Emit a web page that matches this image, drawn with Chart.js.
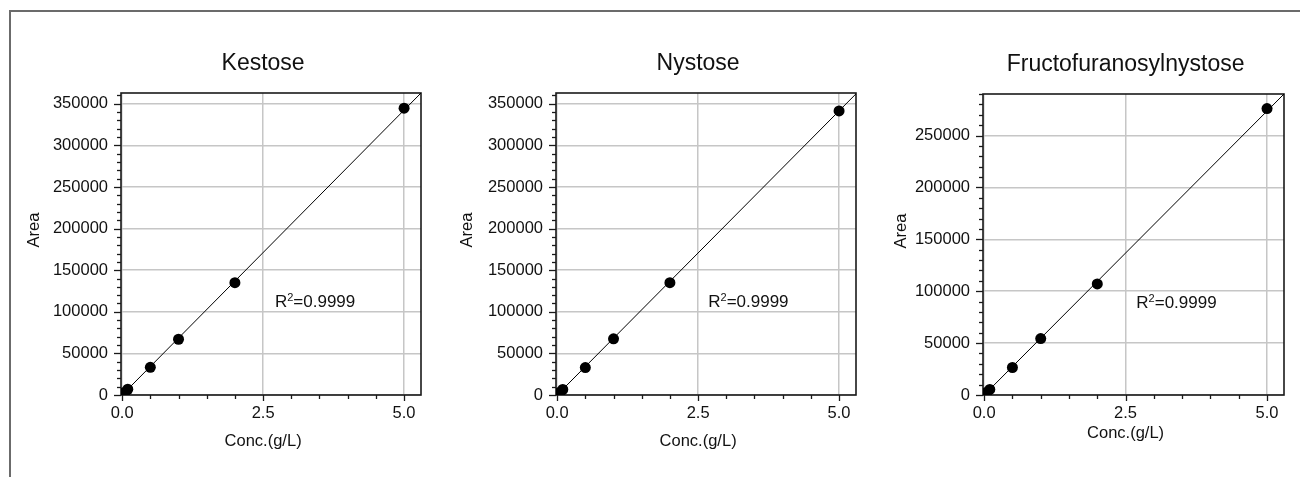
<!DOCTYPE html>
<html>
<head>
<meta charset="utf-8">
<title>Calibration curves</title>
<script src="https://cdn.jsdelivr.net/npm/chart.js@4.4.1/dist/chart.umd.min.js"></script>
<style>
  html, body { margin: 0; background: #fff; }
  body { width: 1300px; height: 477px; position: relative; overflow: hidden; }
  .frame { position: absolute; left: 9px; top: 10px; right: -10px; bottom: -10px; border-left: 2px solid #6b6b6b; border-top: 2px solid #6b6b6b; }
  .panel { position: absolute; top: 20px; width: 430px; height: 450px; }
</style>
</head>
<body>
<div class="frame"></div>
<div class="panel" style="left:10px"><canvas id="kestoseChart"></canvas></div>
<div class="panel" style="left:445px"><canvas id="nystoseChart"></canvas></div>
<div class="panel" style="left:870px"><canvas id="fructoChart"></canvas></div>
<script>
// standards (g/L) and peak areas
const concentrations = [0.02, 0.05, 0.1, 0.5, 1, 2, 5];
const kestoseArea = [1400, 3400, 6900, 33300, 67000, 135000, 344800];
const nystoseArea = [1300, 3300, 6600, 33000, 67500, 135000, 341500];
const fructoArea = [1100, 2700, 5400, 26500, 54400, 107000, 276000];

// fitted line end points
const fitConc = [0, 5.3];
const kestoseFit = [0, 363000];
const nystoseFit = [0, 362000];
const fructoFit = [0, 290000];

// ticks
const xTickValues = [0, 0.5, 1, 1.5, 2, 2.5, 3, 3.5, 4, 4.5, 5];
const xMajorTicks = [0, 2.5, 5];
const xTickLabels = ["0.0", "2.5", "5.0"];
const yMinorStep = 10000;
const yTicksKestose = [0, 50000, 100000, 150000, 200000, 250000, 300000, 350000];
const yTicksFructo = [0, 50000, 100000, 150000, 200000, 250000];
const r2Text = "0.9999";

const FONT = '"Liberation Sans", Arial, Helvetica, sans-serif';
Chart.defaults.font.family = FONT;
Chart.defaults.color = "#111";

const panels = [
  { id: "kestoseChart", title: "Kestose", area: kestoseArea, fit: kestoseFit, yMajor: yTicksKestose, yMax: 363000,
    left: 10, plotLeft: 121, plotRight: 421, plotTop: 93, r2At: [2.71, 106200], areaGap: 82, xTitleGap: 51 },
  { id: "nystoseChart", title: "Nystose", area: nystoseArea, fit: nystoseFit, yMajor: yTicksKestose, yMax: 363000,
    left: 445, plotLeft: 556, plotRight: 856, plotTop: 93, r2At: [2.68, 106100], areaGap: 84, xTitleGap: 51 },
  { id: "fructoChart", title: "Fructofuranosylnystose", area: fructoArea, fit: fructoFit, yMajor: yTicksFructo, yMax: 290000,
    left: 870, plotLeft: 983, plotRight: 1284, plotTop: 94, r2At: [2.69, 84300], areaGap: 77, xTitleGap: 43 },
];

const PANEL_TOP = 20;
const PANEL_W = 430;
const PANEL_H = 450;
const PLOT_BOTTOM = 395;

// frame + tick marks under the points, texts on top
const panelDecor = {
  id: "panelDecor",
  beforeDatasetsDraw(chart, args, opts) {
    const { ctx, chartArea: a, scales: { x, y } } = chart;
    ctx.save();
    ctx.strokeStyle = "#1a1a1a";
    ctx.lineWidth = 1.3;
    y.ticks.forEach((t) => {
      const py = Math.round(y.getPixelForValue(t.value)) + 0.5;
      const len = opts.yMajor.includes(t.value) ? 7 : 4;
      ctx.beginPath();
      ctx.moveTo(a.left - len, py);
      ctx.lineTo(a.left, py);
      ctx.stroke();
    });
    x.ticks.forEach((t) => {
      const px = Math.round(x.getPixelForValue(t.value)) + 0.5;
      const len = xMajorTicks.includes(t.value) ? 6 : 4;
      ctx.beginPath();
      ctx.moveTo(px, a.bottom);
      ctx.lineTo(px, a.bottom + len);
      ctx.stroke();
    });
    ctx.lineWidth = 1.6;
    ctx.strokeRect(a.left, a.top, a.right - a.left, a.bottom - a.top);
    ctx.restore();
  },
  afterDraw(chart, args, opts) {
    const { ctx, chartArea: a, scales: { x, y } } = chart;
    const mid = x.getPixelForValue(2.5);
    ctx.save();
    ctx.fillStyle = "#111";
    ctx.textBaseline = "alphabetic";
    ctx.textAlign = "center";

    ctx.font = `23px ${FONT}`;
    ctx.fillText(opts.title, mid, a.top - 23);

    ctx.font = `16.5px ${FONT}`;
    ctx.fillText("Conc.(g/L)", mid, a.bottom + opts.xTitleGap);

    ctx.save();
    ctx.translate(a.left - opts.areaGap, a.top + 137);
    ctx.rotate(-Math.PI / 2);
    ctx.fillText("Area", 0, 0);
    ctx.restore();

    // R² label
    let tx = x.getPixelForValue(opts.r2At[0]);
    const ty = y.getPixelForValue(opts.r2At[1]);
    ctx.textAlign = "left";
    ctx.font = `17px ${FONT}`;
    ctx.fillText("R", tx, ty);
    tx += ctx.measureText("R").width;
    ctx.font = `11px ${FONT}`;
    ctx.fillText("2", tx, ty - 6);
    tx += ctx.measureText("2").width;
    ctx.font = `17px ${FONT}`;
    ctx.fillText("=" + r2Text, tx, ty);
    ctx.restore();
  },
};

function makeChart(p) {
  const yAxisWidth = p.plotLeft - p.left;
  const padRight = p.left + PANEL_W - p.plotRight;
  const padTop = p.plotTop - PANEL_TOP;
  const xAxisHeight = 40;
  const padBottom = PANEL_H - (PLOT_BOTTOM - PANEL_TOP) - xAxisHeight;

  return new Chart(document.getElementById(p.id), {
    type: "scatter",
    data: {
      datasets: [
        {
          label: "Standards",
          data: concentrations.map((c, i) => ({ x: c, y: p.area[i] })),
          pointRadius: 5.5,
          pointHoverRadius: 5.5,
          pointBackgroundColor: "#000",
          pointBorderWidth: 0,
          order: 1,
        },
        {
          label: "Fit",
          data: fitConc.map((c, i) => ({ x: c, y: p.fit[i] })),
          showLine: true,
          borderColor: "#000",
          borderWidth: 1,
          pointRadius: 0,
          clip: 0,
          order: 2,
        },
      ],
    },
    options: {
      responsive: true,
      maintainAspectRatio: false,
      animation: false,
      events: [],
      layout: { padding: { top: padTop, right: padRight, bottom: padBottom, left: 0 } },
      plugins: {
        legend: { display: false },
        tooltip: { enabled: false },
        title: { display: false },
        panelDecor: { title: p.title, yMajor: p.yMajor, r2At: p.r2At, areaGap: p.areaGap, xTitleGap: p.xTitleGap },
      },
      scales: {
        x: {
          type: "linear",
          min: -0.02,
          max: 5.3,
          afterBuildTicks: (s) => { s.ticks = xTickValues.map((v) => ({ value: v })); },
          afterFit: (s) => { s.height = xAxisHeight; },
          ticks: {
            autoSkip: false,
            maxRotation: 0,
            padding: 9,
            font: { size: 16.5 },
            callback: (v) => {
              const k = xMajorTicks.indexOf(v);
              return k >= 0 ? xTickLabels[k] : "";
            },
          },
          grid: {
            drawTicks: false,
            lineWidth: 1.5,
            color: (ctx) => (ctx.tick && xMajorTicks.includes(ctx.tick.value) ? "#c6c6c6" : "rgba(0,0,0,0)"),
          },
          border: { display: false },
        },
        y: {
          type: "linear",
          min: 0,
          max: p.yMax,
          afterBuildTicks: (s) => {
            const ticks = [];
            for (let v = 0; v <= s.max; v += yMinorStep) ticks.push({ value: v });
            s.ticks = ticks;
          },
          afterFit: (s) => { s.width = yAxisWidth; },
          ticks: {
            autoSkip: false,
            padding: 13,
            font: { size: 16.5 },
            callback: (v) => (p.yMajor.includes(v) ? String(v) : ""),
          },
          grid: {
            drawTicks: false,
            lineWidth: 1.5,
            color: (ctx) => (ctx.tick && p.yMajor.includes(ctx.tick.value) ? "#c6c6c6" : "rgba(0,0,0,0)"),
          },
          border: { display: false },
        },
      },
    },
    plugins: [panelDecor],
  });
}

panels.forEach(makeChart);
</script>
</body>
</html>
